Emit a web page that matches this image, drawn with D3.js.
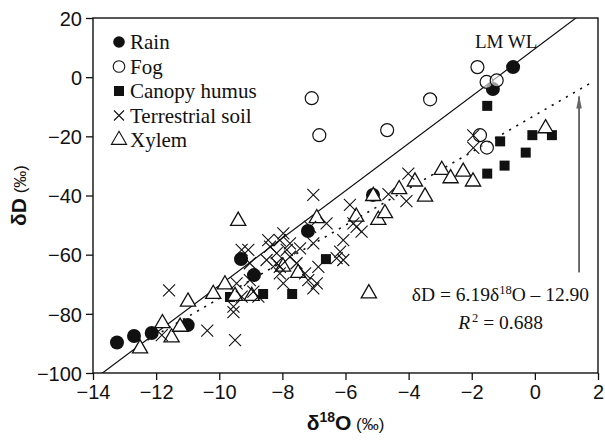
<!DOCTYPE html>
<html>
<head>
<meta charset="utf-8">
<script src="https://cdn.jsdelivr.net/npm/d3@7"></script>
<style>
  body { margin: 0; background: #fff; }
  svg { display: block; }
</style>
</head>
<body>
<div id="chart"></div>
<script>
// series values: [δ18O, δD]
const rain = [[-13.24, -89.7], [-12.70, -87.5], [-12.14, -86.5], [-11.0, -83.8], [-9.31, -61.5],
  [-8.90, -66.9], [-7.19, -52.0], [-5.13, -39.8], [-1.33, -4.0], [-0.69, 3.4]];
const fog = [[-1.82, 3.4], [-1.53, -1.6], [-1.21, -1.1], [-7.07, -7.1], [-3.32, -7.5],
  [-6.83, -19.6], [-4.68, -17.9], [-1.74, -19.6], [-1.52, -23.8]];
const humus = [[-1.51, -9.7], [-1.10, -21.7], [-0.08, -19.6], [0.54, -19.6], [-0.29, -25.5],
  [-0.96, -29.9], [-1.51, -32.6], [-6.62, -61.5], [-7.69, -73.3], [-8.61, -73.3], [-9.66, -74.3]];
const soil = [[-11.59, -72.1], [-10.38, -85.7], [-9.50, -88.9], [-11.82, -87.2], [-9.55, -77.6],
  [-9.55, -79.4], [-9.45, -69.7], [-9.29, -74.2], [-8.92, -72.5], [-8.76, -74.2], [-9.29, -58.4],
  [-9.08, -58.4], [-9.03, -62.9], [-9.03, -68.6], [-8.50, -61.8], [-8.45, -55.1], [-8.39, -57.3],
  [-8.18, -59.5], [-8.18, -62.9], [-8.08, -55.1], [-8.08, -64.1], [-8.08, -66.3], [-7.97, -52.8],
  [-7.97, -69.7], [-7.86, -58.4], [-7.76, -56.2], [-7.76, -60.7], [-7.55, -62.9], [-7.44, -57.9],
  [-7.28, -66.3], [-7.18, -68.6], [-7.12, -50.6], [-7.02, -39.8], [-7.02, -56.2], [-7.02, -71.4],
  [-6.91, -69.7], [-6.86, -64.1], [-6.60, -49.4], [-6.28, -61.2], [-6.17, -59.0], [-6.07, -55.1],
  [-6.07, -61.8], [-5.86, -43.2], [-5.75, -49.4], [-5.65, -50.6], [-5.49, -52.2], [-4.64, -39.5],
  [-4.07, -41.9], [-4.01, -32.6], [-1.95, -19.7], [-1.95, -23.9]];
const xylem = [[-12.51, -91.7], [-11.80, -83.2], [-11.51, -88.0], [-11.24, -84.4], [-10.99, -75.9],
  [-10.19, -73.3], [-9.82, -70.1], [-9.50, -74.0], [-8.97, -74.0], [-9.40, -48.6], [-7.98, -64.1],
  [-7.50, -66.2], [-6.91, -47.7], [-5.66, -47.2], [-5.12, -40.2], [-4.96, -48.3], [-4.75, -46.0],
  [-4.30, -37.9], [-3.80, -35.3], [-3.48, -40.4], [-2.95, -31.4], [-2.67, -34.2], [-2.27, -32.0],
  [-1.96, -35.3], [0.34, -17.3], [-5.26, -73.1]];

const xTicks = [-14, -12, -10, -8, -6, -4, -2, 0, 2];
const yTicks = [-100, -80, -60, -40, -20, 0, 20];
const legendLabels = ["Rain", "Fog", "Canopy humus", "Terrestrial soil", "Xylem"];

// LMWL and regression line
const lmwl = { slope: 8.0, intercept: 9.6 };
const fit = { slope: 6.19, intercept: -12.90, from: -12.5, to: 1.8 };
const arrowX = 1.4, arrowFrom = -66, arrowTo = -6.5;

const width = 605, height = 441;
const margin = { top: 18, right: 7, bottom: 68, left: 93 };

const svg = d3.select("#chart").append("svg")
    .attr("width", width)
    .attr("height", height);

const x = d3.scaleLinear().domain([-14, 2]).range([margin.left, width - margin.right]);
const y = d3.scaleLinear().domain([-100, 20]).range([height - margin.bottom, margin.top]);

const defs = svg.append("defs");
defs.append("clipPath").attr("id", "plotClip")
  .append("rect")
    .attr("x", x(-14)).attr("y", y(20))
    .attr("width", x(2) - x(-14)).attr("height", y(-100) - y(20));

// axes
const sans = "'Liberation Sans', Arial, sans-serif";
const xAxis = svg.append("g")
    .attr("transform", `translate(0,${y(-100)})`)
    .call(d3.axisBottom(x).tickValues(xTicks).tickSize(7).tickPadding(5).tickFormat(d3.format("d")));
const yAxis = svg.append("g")
    .attr("transform", `translate(${x(-14)},0)`)
    .call(d3.axisLeft(y).tickValues(yTicks).tickSize(7).tickPadding(4).tickFormat(d3.format("d")));
[xAxis, yAxis].forEach(a => {
  a.select(".domain").remove();
  a.selectAll("line").attr("stroke", "#111").attr("stroke-width", 1.3);
  a.selectAll("text")
    .attr("fill", "#111")
    .style("font-family", sans)
    .style("font-size", "20px");
});
yAxis.selectAll("text").attr("dy", "0.36em");

// frame
svg.append("rect")
    .attr("x", x(-14)).attr("y", y(20))
    .attr("width", x(2) - x(-14)).attr("height", y(-100) - y(20))
    .attr("fill", "none").attr("stroke", "#111").attr("stroke-width", 1.4);

const plot = svg.append("g").attr("clip-path", "url(#plotClip)");

// LMWL
plot.append("line")
    .attr("x1", x(-15)).attr("y1", y(lmwl.slope * -15 + lmwl.intercept))
    .attr("x2", x(3)).attr("y2", y(lmwl.slope * 3 + lmwl.intercept))
    .attr("stroke", "#111").attr("stroke-width", 1.2);

// regression
plot.append("line")
    .attr("x1", x(fit.from)).attr("y1", y(fit.slope * fit.from + fit.intercept))
    .attr("x2", x(fit.to)).attr("y2", y(fit.slope * fit.to + fit.intercept))
    .attr("stroke", "#111").attr("stroke-width", 1.6)
    .attr("stroke-dasharray", "2.2,6");

// arrow
defs.append("marker")
    .attr("id", "arrowHead")
    .attr("viewBox", "0 0 12 5")
    .attr("refX", 11).attr("refY", 2.5)
    .attr("markerWidth", 7).attr("markerHeight", 3)
    .attr("markerUnits", "strokeWidth")
    .attr("orient", "auto")
  .append("path")
    .attr("d", "M0,0 L12,2.5 L0,5 Z")
    .attr("fill", "#666");
svg.append("line")
    .attr("x1", x(arrowX)).attr("y1", y(arrowFrom))
    .attr("x2", x(arrowX)).attr("y2", y(arrowTo))
    .attr("stroke", "#666").attr("stroke-width", 1.9)
    .attr("marker-end", "url(#arrowHead)");

// markers
const triangle = d3.symbol().type(d3.symbolTriangle).size(100);
const crossPath = s => `M${-s},${-s}L${s},${s}M${-s},${s}L${s},${-s}`;

plot.selectAll(".rain").data(rain).enter().append("circle")
    .attr("class", "rain")
    .attr("cx", d => x(d[0])).attr("cy", d => y(d[1]))
    .attr("r", 7).attr("fill", "#111");

plot.selectAll(".fog").data(fog).enter().append("circle")
    .attr("class", "fog")
    .attr("cx", d => x(d[0])).attr("cy", d => y(d[1]))
    .attr("r", 6.5).attr("fill", "#fff").attr("fill-opacity", 0.6)
    .attr("stroke", "#111").attr("stroke-width", 1.2);

plot.selectAll(".humus").data(humus).enter().append("rect")
    .attr("class", "humus")
    .attr("x", d => x(d[0]) - 5).attr("y", d => y(d[1]) - 5)
    .attr("width", 10).attr("height", 10)
    .attr("fill", "#111");

plot.selectAll(".xylem").data(xylem).enter().append("path")
    .attr("class", "xylem")
    .attr("transform", d => `translate(${x(d[0])},${y(d[1])})`)
    .attr("d", triangle)
    .attr("fill", "#fff")
    .attr("stroke", "#111").attr("stroke-width", 1.3);

plot.selectAll(".soil").data(soil).enter().append("path")
    .attr("class", "soil")
    .attr("transform", d => `translate(${x(d[0])},${y(d[1])})`)
    .attr("d", crossPath(6))
    .attr("fill", "none")
    .attr("stroke", "#111").attr("stroke-width", 1.1);

// legend
const serif = "'Liberation Serif', 'Times New Roman', serif";
const legend = svg.append("g").attr("transform", `translate(${x(-14) + 26},${y(20) + 24})`);
legendLabels.forEach((label, i) => {
  const g = legend.append("g").attr("transform", `translate(0,${i * 24.5})`);
  if (i === 0) g.append("circle").attr("r", 5.8).attr("fill", "#111");
  if (i === 1) g.append("circle").attr("r", 5.8).attr("fill", "none").attr("stroke", "#111").attr("stroke-width", 1.1);
  if (i === 2) g.append("rect").attr("x", -5).attr("y", -5).attr("width", 10).attr("height", 10).attr("fill", "#111");
  if (i === 3) g.append("path").attr("d", crossPath(5)).attr("stroke", "#111").attr("stroke-width", 1.1);
  if (i === 4) g.append("path").attr("d", triangle).attr("fill", "none").attr("stroke", "#111").attr("stroke-width", 1.1);
  g.append("text")
    .attr("x", 11).attr("y", 7)
    .style("font-family", serif).style("font-size", "21px")
    .attr("fill", "#111")
    .text(label);
});

// LMWL label
svg.append("text")
    .attr("x", x(-1.9)).attr("y", y(9.8))
    .style("font-family", serif).style("font-size", "19px")
    .attr("fill", "#111")
    .text("LM WL");

// equation
const eq = svg.append("text")
    .attr("x", x(-3.9)).attr("y", y(-75.5))
    .style("font-family", serif).style("font-size", "19.5px")
    .attr("fill", "#111");
eq.append("tspan").text("δD = 6.19δ");
eq.append("tspan").attr("dy", -7).style("font-size", "12.5px").text("18");
eq.append("tspan").attr("dy", 7).text("O – 12.90");

const r2 = svg.append("text")
    .attr("x", x(-2.43)).attr("y", y(-85))
    .style("font-family", serif).style("font-size", "19.5px")
    .attr("fill", "#111");
r2.append("tspan").style("font-style", "italic").text("R");
r2.append("tspan").attr("dy", -7).attr("dx", 2).style("font-size", "12.5px").text("2");
r2.append("tspan").attr("dy", 7).text(" = 0.688");

// axis titles
const xt = svg.append("text")
    .attr("x", (x(-14) + x(2)) / 2).attr("y", 430)
    .attr("text-anchor", "middle")
    .style("font-family", sans)
    .attr("fill", "#111");
xt.append("tspan").style("font-weight", "bold").style("font-size", "21px").text("δ");
xt.append("tspan").attr("dy", -8).style("font-weight", "bold").style("font-size", "14px").text("18");
xt.append("tspan").attr("dy", 8).style("font-weight", "bold").style("font-size", "21px").text("O");
xt.append("tspan").style("font-size", "17px").text(" (‰)");

const yt = svg.append("text")
    .attr("transform", `translate(26,${(y(20) + y(-100)) / 2}) rotate(-90)`)
    .attr("text-anchor", "middle")
    .style("font-family", sans)
    .attr("fill", "#111");
yt.append("tspan").style("font-weight", "bold").style("font-size", "21px").text("δD");
yt.append("tspan").style("font-size", "17px").text(" (‰)");
</script>
</body>
</html>
